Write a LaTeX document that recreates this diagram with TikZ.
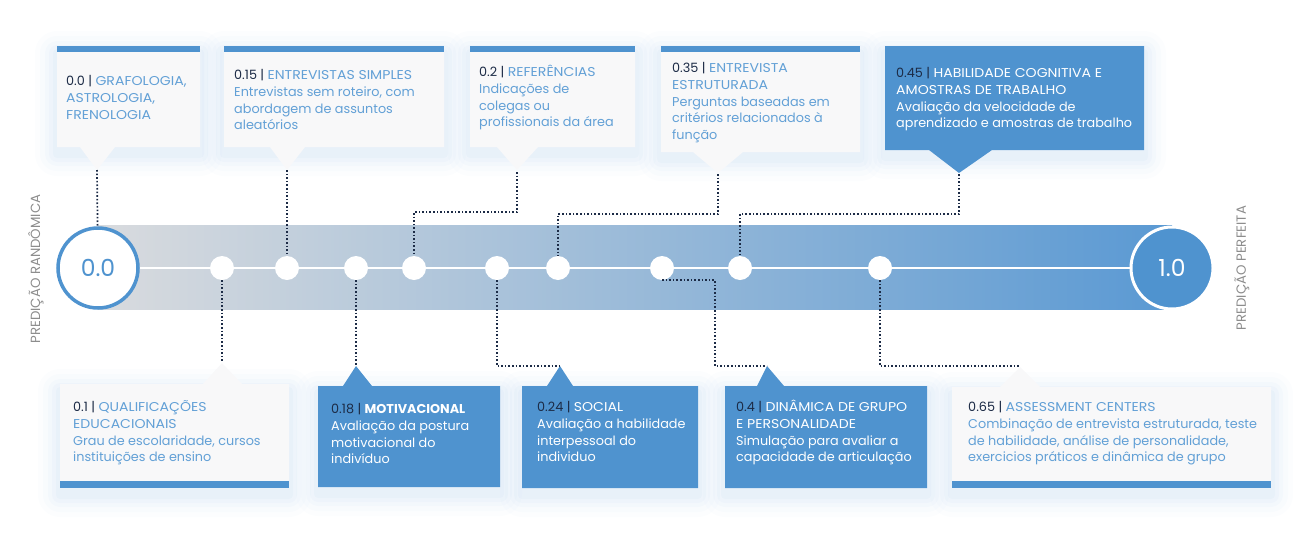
\documentclass[tikz,border=0pt]{standalone}
\usepackage{fontspec}
\setmainfont{Poppins}
\newfontfamily\ttlfont[FakeStretch=1.1]{Poppins}
\usetikzlibrary{calc}
\definecolor{boxblue}{RGB}{79,147,207}
\definecolor{lightbox}{RGB}{248,248,249}
\definecolor{navy}{RGB}{28,43,70}
\definecolor{ltext}{RGB}{98,160,214}
\definecolor{glowc}{RGB}{120,170,222}
\definecolor{barl}{RGB}{217,219,222}
\definecolor{barr}{RGB}{90,153,211}
\definecolor{sidegray}{RGB}{140,140,140}
\newcommand{\glowbox}[4]{%
  \foreach \r/\o in {22/0.022,17/0.028,12/0.035,8/0.045,4/0.05}{%
    \fill[glowc,opacity=\o,rounded corners=\r pt] ({#1-\r},{#2-\r+7}) rectangle ({#3+\r},{#4+\r+7});}}
\newcommand{\nm}[1]{{\color{navy}#1 |}}
\newcommand{\ttl}[1]{{\ttlfont #1}}
\tikzset{
  dot/.style={circle,fill=white,inner sep=0pt,minimum size=24pt},
  conn/.style={draw=navy,line width=1.7pt,dash pattern=on 1.6pt off 2pt},
  txt/.style={inner sep=0pt,anchor=base west,align=left,font=\fontsize{12.8}{16.8}\selectfont},
  ltxt/.style={txt,text=ltext},
  wtxt/.style={txt,text=white},
  side/.style={text=sidegray,font=\fontsize{13.3}{15}\selectfont,rotate=90,inner sep=0pt}
}
\begin{document}
\begin{tikzpicture}[x=1pt,y=-1pt]
\useasboundingbox (0,0) rectangle (1293,541);
% glows
\glowbox{57}{46}{200}{147}
\glowbox{224}{46}{444}{147}
\glowbox{470}{46}{635}{147}
\glowbox{661}{46}{860}{152}
\glowbox{885}{46}{1144}{150}
\glowbox{60}{384}{289}{488}
\glowbox{318}{386}{500}{487}
\glowbox{522}{386}{698}{488}
\glowbox{725}{386}{927}{488}
\glowbox{952}{387}{1271}{488}
% bar
\shade[left color=barl,right color=barr] (98,225) rectangle (1172,309);
\draw[white,line width=2pt] (140,267.5) -- (1130,267.5);
% top boxes
\fill[lightbox] (57,46) -- (200,46) -- (200,147) -- (115,147) -- (97,170) -- (80,147) -- (57,147) -- cycle;
\fill[boxblue] (57,46) rectangle (200,52);
\fill[lightbox] (224,46) -- (444,46) -- (444,147) -- (305,147) -- (287,170) -- (270,147) -- (224,147) -- cycle;
\fill[boxblue] (224,46) rectangle (444,52);
\fill[lightbox] (470,46) -- (635,46) -- (635,147) -- (538,147) -- (517,170) -- (497,147) -- (470,147) -- cycle;
\fill[boxblue] (470,46) rectangle (635,52);
\fill[lightbox] (661,46) -- (860,46) -- (860,152) -- (743,152) -- (718,173) -- (693,152) -- (661,152) -- cycle;
\fill[boxblue] (661,46) rectangle (860,52);
\fill[boxblue] (885,46) -- (1144,46) -- (1144,150) -- (992,150) -- (959,173) -- (929,150) -- (885,150) -- cycle;
% bottom boxes
\fill[lightbox] (60,384) -- (203,384) -- (222,363) -- (242,384) -- (289,384) -- (289,488) -- (60,488) -- cycle;
\fill[boxblue] (60,481) rectangle (289,488);
\fill[boxblue] (318,386) -- (343,386) -- (356,366) -- (372,386) -- (500,386) -- (500,487) -- (318,487) -- cycle;
\fill[boxblue] (522,386) -- (547,386) -- (560,366) -- (573,386) -- (698,386) -- (698,488) -- (522,488) -- cycle;
\fill[boxblue] (725,386) -- (757,386) -- (767,366) -- (784,386) -- (927,386) -- (927,488) -- (725,488) -- cycle;
\fill[lightbox] (952,387) -- (1000,387) -- (1020,367) -- (1040,387) -- (1271,387) -- (1271,488) -- (952,488) -- cycle;
\fill[boxblue] (952,481) rectangle (1271,488);
% anchor points of pointers
\coordinate (t00) at (97,170);
\coordinate (t015) at (287,170);
\coordinate (t020) at (517,172);
\coordinate (t035) at (718,174);
\coordinate (t045) at (959,174);
\coordinate (b010) at (222,362);
\coordinate (b018) at (356,366);
\coordinate (b024) at (560,366);
\coordinate (b040) at (767,366);
\coordinate (b065) at (1020,366);
% circles
\node[circle,draw=boxblue,fill=white,line width=3.5pt,minimum size=80pt,inner sep=0pt,text=boxblue,font=\fontsize{23.5}{24}\selectfont] (s) at (98,268) {0.0};
\node[circle,draw=white,fill=boxblue,line width=3pt,minimum size=82pt,inner sep=0pt,text=white,font=\fontsize{23.5}{24}\selectfont] (e) at (1172,268) {1.0};
\node[dot] (p010) at (222,268) {};
\node[dot] (p015) at (287,268) {};
\node[dot] (p018) at (356,268) {};
\node[dot] (p020) at (414,268) {};
\node[dot] (p024) at (497,268) {};
\node[dot] (p035) at (558,268) {};
\node[dot] (p040) at (662,268) {};
\node[dot] (p045) at (740,268) {};
\node[dot] (p065) at (880,268) {};
% connectors
\draw[conn] (t00) -- (s);
\draw[conn] (t015) -- (p015);
\draw[conn] (t020) -- ++(0,40) -| (p020);
\draw[conn] (t035) -- ++(0,40) -| (p035);
\draw[conn] (t045) -- ++(0,40) -| (p045);
\draw[conn] (p010) -- (b010);
\draw[conn] (p018) -- (b018);
\draw[conn] (p024) |- (b024);
\draw[conn] (p040.south) -- ++(53,0) |- (b040);
\draw[conn] (p065) |- (b065);
% side labels
\node[side] (lr) at (36,269) {PREDIÇÃO RANDÔMICA};
\node[side] (lp) at (1242,268) {PREDIÇÃO PERFEITA};
% texts (base anchor = baseline of the last line)
\node[ltxt] (x00) at (66,119.1) {\nm{0.0} \ttl{GRAFOLOGIA,}\\\ttl{ASTROLOGIA,}\\\ttl{FRENOLOGIA}};
\node[ltxt] (x015) at (234,129.9) {\nm{0.15} \ttl{ENTREVISTAS SIMPLES}\\Entrevistas sem roteiro, com\\abordagem de assuntos\\aleatórios};
\node[ltxt] (x020) at (479,126.9) {\nm{0.2} \ttl{REFERÊNCIAS}\\Indicações de\\colegas ou\\profissionais da área};
\node[ltxt] (x035) at (672,139.7) {\nm{0.35} \ttl{ENTREVISTA}\\\ttl{ESTRUTURADA}\\Perguntas baseadas em\\critérios relacionados à\\função};
\node[wtxt] (x045) at (896,127.9) {\nm{0.45} \ttl{HABILIDADE COGNITIVA E}\\\ttl{AMOSTRAS DE TRABALHO}\\Avaliação da velocidade de\\aprendizado e amostras de trabalho};
\node[ltxt] (x010) at (73,461.9) {\nm{0.1} \ttl{QUALIFICAÇÕES}\\\ttl{EDUCACIONAIS}\\Grau de escolaridade, cursos\\instituições de ensino};
\node[wtxt] (x018) at (331,463.9) {\nm{0.18} \textbf{MOTIVACIONAL}\\Avaliação da postura\\motivacional do\\indivíduo};
\node[wtxt] (x024) at (537,461.9) {\nm{0.24} \ttl{SOCIAL}\\Avaliação a habilidade\\interpessoal do\\individuo};
\node[wtxt] (x040) at (736,461.9) {\nm{0.4} \ttl{DINÂMICA DE GRUPO}\\\ttl{E PERSONALIDADE}\\Simulação para avaliar a\\capacidade de articulação};
\node[ltxt] (x065) at (968,461.9) {\nm{0.65} \ttl{ASSESSMENT CENTERS}\\Combinação de entrevista estruturada, teste\\de habilidade, análise de personalidade,\\exercicios práticos e dinâmica de grupo};
\end{tikzpicture}
\end{document}
